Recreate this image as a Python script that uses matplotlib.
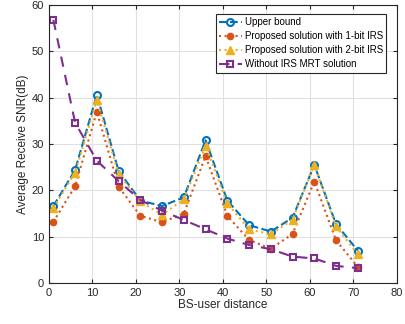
import matplotlib
matplotlib.use("Agg")
import matplotlib.pyplot as plt

plt.rcParams['font.family'] = ['Liberation Sans', 'DejaVu Sans']

distance = [1, 6, 11, 16, 21, 26, 31, 36, 41, 46, 51, 56, 61, 66, 71]
upper_bound = [16.6, 24.4, 40.6, 24.2, 17.8, 16.6, 18.5, 30.8, 17.8, 12.5, 11.1, 14.1, 25.5, 12.7, 7.0]
one_bit = [13.2, 20.9, 37.0, 20.8, 14.5, 13.1, 15.0, 27.4, 14.5, 9.3, 7.4, 10.6, 21.9, 9.2, 3.5]
two_bit = [16.2, 23.8, 39.5, 23.5, 17.6, 14.7, 18.1, 29.6, 17.2, 11.6, 10.5, 13.7, 25.5, 12.2, 6.2]
mrt = [56.8, 34.6, 26.4, 22.0, 17.9, 15.6, 13.6, 11.6, 9.6, 8.2, 7.3, 5.7, 5.3, 3.7, 3.2]

fig = plt.figure(figsize=(4.06, 3.24), dpi=100)
ax = fig.add_axes([0.1207, 0.1265, 0.857, 0.858])

ax.plot(distance, upper_bound, '--', color='#0072BD', lw=1.5, marker='o', ms=5,
        mfc='none', mew=1.5, label='Upper bound')
ax.plot(distance, one_bit, ':', color='#D95319', lw=1.5, marker='o', ms=4.5,
        mfc='#D95319', label='Proposed solution with 1-bit IRS')
ax.plot(distance, two_bit, ':', color='#EDB120', lw=1.5, marker='^', ms=5.5,
        mfc='#EDB120', label='Proposed solution with 2-bit IRS')
ax.plot(distance, mrt, '--', color='#7E2F8E', lw=1.5, marker='s', ms=4.5,
        mfc='none', mew=1.5, label='Without IRS MRT solution', dashes=(5, 4))

ax.set_xlim(0, 80)
ax.set_ylim(0, 60)
ax.set_xticks(range(0, 81, 10))
ax.set_yticks(range(0, 61, 10))
ax.grid(True, color='#e0e0e0', lw=0.8)
ax.set_axisbelow(True)
ax.tick_params(direction='in', top=True, right=True, labelsize=8, length=3,
               color='#262626', labelcolor='#262626')
for s in ax.spines.values():
    s.set_color('#262626')
    s.set_linewidth(0.8)
ax.set_xlabel('BS-user distance', fontsize=8.5, color='#262626', labelpad=1)
ax.set_ylabel('Average Receive SNR(dB)', fontsize=8.5, color='#262626', labelpad=2)

leg = ax.legend(loc='upper right', fontsize=7.0, fancybox=False, framealpha=1,
                edgecolor='#262626', handlelength=2.3, borderpad=0.35,
                labelspacing=0.4, handletextpad=0.3, bbox_to_anchor=(0.983, 0.985))
leg.get_frame().set_linewidth(0.8)

fig.savefig('out.png', dpi=100)
